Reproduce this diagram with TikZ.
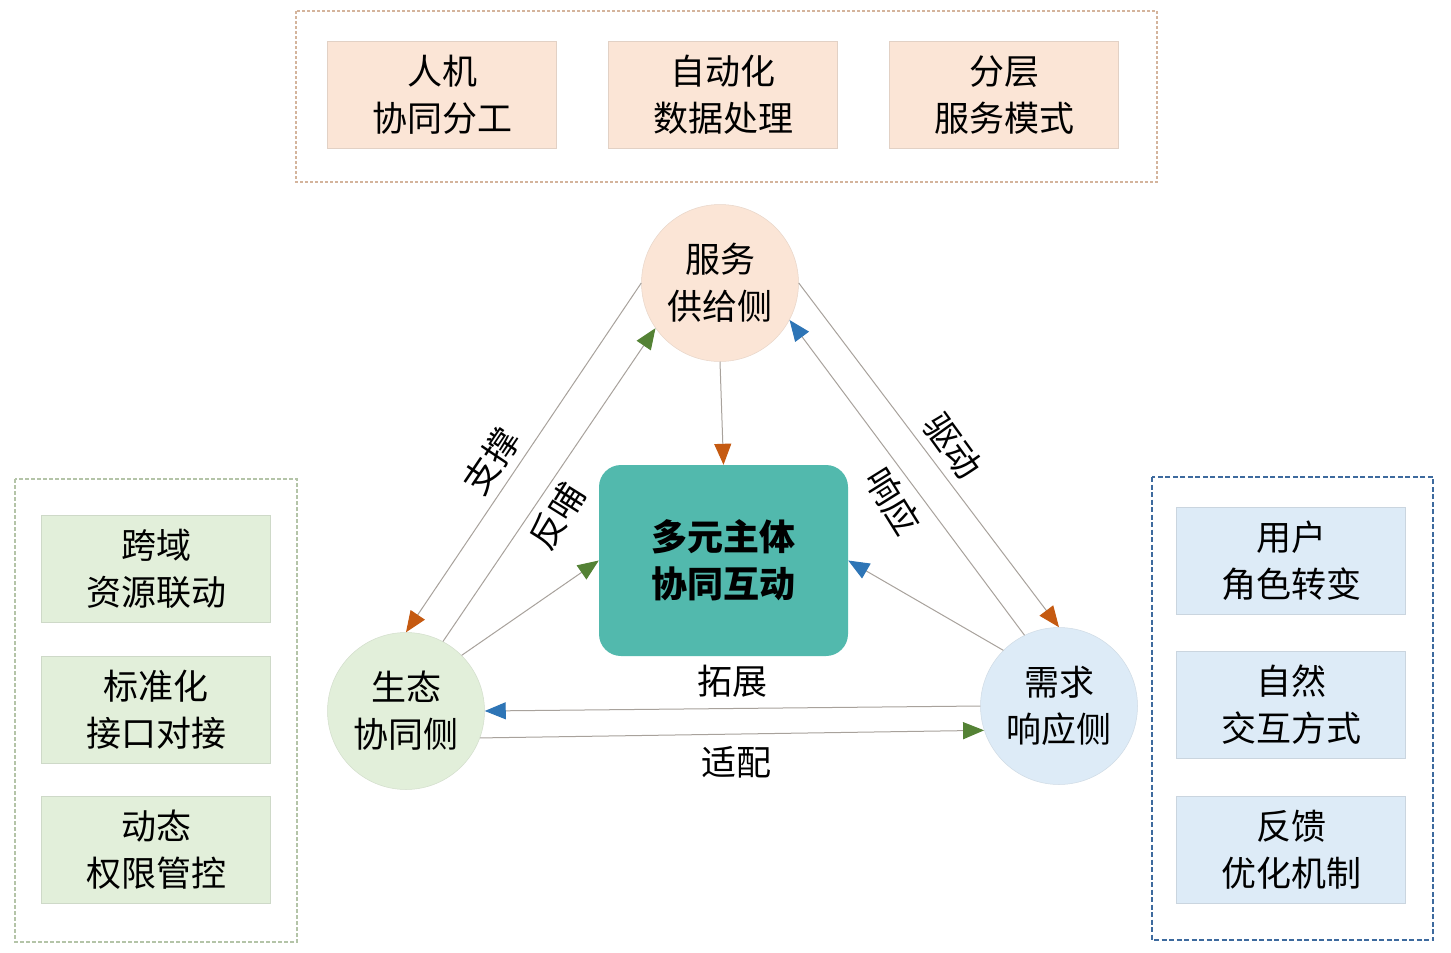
\documentclass[tikz,border=0pt]{standalone}
\usepackage{fontspec}
\setmainfont{Noto Sans CJK SC}
\usetikzlibrary{arrows.meta}
\definecolor{peach}{HTML}{FBE5D6}
\definecolor{lgreen}{HTML}{E2EFDA}
\definecolor{lblue}{HTML}{DDEBF7}
\definecolor{teal}{HTML}{52B9AD}
\definecolor{aorange}{HTML}{C55A11}
\definecolor{agreen}{HTML}{548235}
\definecolor{ablue}{HTML}{2E75B6}
\definecolor{lineg}{HTML}{A8A29C}
\definecolor{dtan}{HTML}{D4B49C}
\definecolor{dgreen}{HTML}{B4C4A8}
\definecolor{dblue}{HTML}{3D6A9E}
\begin{document}
\begin{tikzpicture}[x=1pt,y=-1pt,
  txt/.style={font=\fontsize{35}{47}\selectfont, align=center, inner sep=0pt},
  boxbase/.style={txt, minimum width=229pt, minimum height=107pt},
  pbox/.style={boxbase, fill=peach, draw=peach!80!gray, line width=0.5pt},
  gbox/.style={boxbase, fill=lgreen, draw=lgreen!80!gray, line width=0.5pt},
  bbox/.style={boxbase, fill=lblue, draw=lblue!80!gray, line width=0.5pt},
  circ/.style={txt, circle, minimum size=157pt, line width=0.5pt},
  conn/.style={draw=lineg, line width=1pt},
  tipo/.style={conn, -{Triangle[length=21pt,width=17pt,fill=aorange,color=aorange]}},
  tipg/.style={conn, -{Triangle[length=21pt,width=17pt,fill=agreen,color=agreen]}},
  tipb/.style={conn, -{Triangle[length=21pt,width=17pt,fill=ablue,color=ablue]}},
  lbl/.style={font=\fontsize{35}{40}\selectfont, inner sep=0pt}
]
\useasboundingbox (0,0) rectangle (1451,953);
\fill[white] (0,0) rectangle (1451,953);

% group frames
\draw[dtan, line width=2pt, dash pattern=on 3pt off 2pt] (296,11) rectangle (1157,182);
\draw[dgreen, line width=2.2pt, dash pattern=on 4pt off 2pt] (15,479) rectangle (297,942);
\draw[dblue, line width=2pt, dash pattern=on 5pt off 2.5pt] (1152,477) rectangle (1433,940);

% top boxes
\node[pbox] (t1) at (442,95) {人机\\协同分工};
\node[pbox] (t2) at (723,95) {自动化\\数据处理};
\node[pbox] (t3) at (1004,95) {分层\\服务模式};

% left boxes
\node[gbox] (l1) at (156,569) {跨域\\资源联动};
\node[gbox] (l2) at (156,710) {标准化\\接口对接};
\node[gbox] (l3) at (156,850) {动态\\权限管控};

% right boxes
\node[bbox] (r1) at (1291,561) {用户\\角色转变};
\node[bbox] (r2) at (1291,705) {自然\\交互方式};
\node[bbox] (r3) at (1291,850) {反馈\\优化机制};

% circles
\node[circ, fill=peach, draw=peach!85!gray] (top) at (720,283) {服务\\供给侧};
\node[circ, fill=lgreen, draw=lgreen!85!gray] (left) at (406,711) {生态\\协同侧};
\node[circ, fill=lblue, draw=lblue!85!gray] (right) at (1059,706) {需求\\响应侧};

% center
\node[txt, font=\fontsize{36}{47}\selectfont\bfseries, fill=teal, rounded corners=22pt,
      minimum width=249pt, minimum height=191pt] (core) at (723.5,560.5) {多元主体\\协同互动};

% connectors
\draw[tipo] (top.south) -- (core.north);
\draw[tipo] (top.west) -- (left.north);
\draw[tipg] (left.62) -- (top.215);
\draw[tipg] (left.45) -- (core.west);
\draw[tipo] (top.east) -- (right.north);
\draw[tipb] (right.116) -- (top.-28);
\draw[tipb] (right.135) -- (core.east);
\draw[tipb] (right.west) -- (left.east);
\draw[tipg] (left.-20) -- (right.198);

% labels
\node[lbl, rotate=56] (lsc) at (491,461) {支撑};
\node[lbl, rotate=58] (lfb) at (557,516) {反哺};
\node[lbl, rotate=-54] (lqd) at (953,446) {驱动};
\node[lbl, rotate=-58] (lxy) at (893,501) {响应};
\node[lbl] (ltz) at (732,681) {拓展};
\node[lbl] (lsp) at (736,762) {适配};
\end{tikzpicture}
\end{document}
